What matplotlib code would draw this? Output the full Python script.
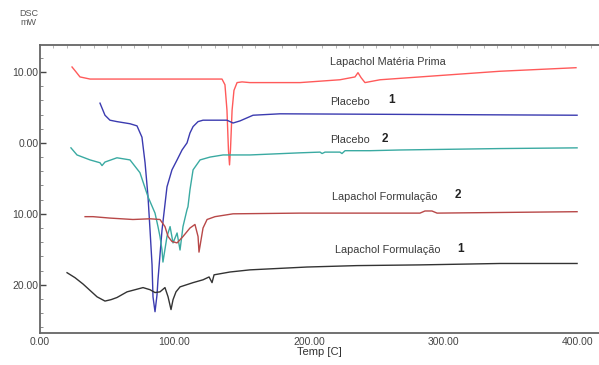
import matplotlib
matplotlib.use('Agg')
import matplotlib.pyplot as plt
from matplotlib.ticker import MultipleLocator

plt.rcParams['font.family'] = ['Liberation Sans', 'DejaVu Sans']

# Lapachol Matéria Prima (vermelho)
mp_t = [23.8, 26.8, 29.7, 37.2, 81.8, 133.8, 135.3, 137.5, 139.0, 140.1, 140.9, 141.6, 142.8, 144.2,
        146.5, 150.2, 156.1, 193.3, 223.0, 234.2, 236.4, 238.7, 241.6, 252.8, 304.8, 342.0, 398.5]
mp_y = [10.7, 10.0, 9.3, 9.0, 9.0, 9.0, 9.0, 8.2, 4.6, -1.0, -3.1, -1.0, 4.6, 7.4,
        8.5, 8.6, 8.5, 8.5, 8.9, 9.3, 9.9, 9.2, 8.5, 8.9, 9.6, 10.1, 10.6]

# Placebo 1 (azul)
p1_t = [44.6, 48.3, 52.0, 57.2, 66.9, 72.1, 75.8, 78.1, 80.3, 81.8, 83.3, 84.0, 85.5, 87.0, 87.7,
        90.7, 94.4, 98.1, 101.9, 105.6, 109.3, 111.5, 113.8, 117.5, 121.2, 139.0, 143.5, 148.7,
        158.4, 178.4, 399.3]
p1_y = [5.6, 3.9, 3.2, 3.0, 2.7, 2.4, 0.8, -2.8, -7.6, -12.3, -17.2, -21.7, -23.8, -21.4, -19.3,
        -12.3, -6.2, -3.8, -2.4, -1.0, 0.0, 1.4, 2.3, 3.0, 3.2, 3.2, 2.8, 3.1,
        3.9, 4.1, 3.9]

# Placebo 2 (verde-azulado)
p2_t = [23.0, 27.5, 37.2, 44.6, 46.1, 48.3, 57.2, 66.9, 74.3, 80.3, 85.5, 87.7, 89.2, 90.7, 91.4,
        94.4, 96.7, 98.9, 101.9, 104.1, 106.3, 109.3, 110.0, 111.5, 113.8, 119.0, 126.4, 136.1,
        156.1, 193.3, 208.2, 209.7, 211.9, 223.0, 224.5, 226.8, 245.4, 267.7, 342.0, 399.3]
p2_y = [-0.7, -1.7, -2.4, -2.8, -3.2, -2.7, -2.1, -2.4, -4.2, -7.6, -9.9, -11.8, -13.2, -15.1, -16.8,
        -13.2, -11.8, -14.1, -12.7, -15.1, -11.8, -9.4, -9.0, -6.6, -3.8, -2.4, -2.0, -1.7,
        -1.7, -1.4, -1.3, -1.5, -1.3, -1.3, -1.5, -1.1, -1.1, -1.0, -0.8, -0.7]

# Lapachol Formulação 2 (vermelho escuro)
f2_t = [33.5, 39.4, 52.0, 69.1, 81.8, 89.2, 92.9, 95.2, 98.1, 101.9, 106.3, 111.5, 115.2, 117.5,
        118.2, 119.7, 121.2, 124.2, 130.1, 143.5, 193.3, 282.5, 286.2, 291.4, 295.2, 399.3]
f2_y = [-10.4, -10.4, -10.6, -10.8, -10.7, -10.8, -11.8, -13.2, -13.9, -14.1, -13.2, -12.0, -11.5, -13.2,
        -15.4, -13.7, -12.0, -10.8, -10.4, -10.0, -9.9, -9.9, -9.6, -9.6, -9.9, -9.7]

# Lapachol Formulação 1 (preto)
f1_t = [20.1, 26.0, 32.0, 37.2, 42.4, 48.3, 52.8, 57.2, 64.7, 76.6, 81.8, 85.5, 89.2, 92.9, 95.2,
        97.4, 98.9, 101.1, 104.1, 113.8, 121.2, 125.7, 127.9, 129.4, 141.3, 156.1, 198.5, 235.7,
        282.5, 342.0, 399.3]
f1_y = [-18.3, -19.0, -19.9, -20.8, -21.7, -22.3, -22.1, -21.8, -21.0, -20.4, -20.7, -21.1, -21.0, -20.4, -21.7,
        -23.5, -22.1, -21.0, -20.3, -19.7, -19.3, -18.9, -19.7, -18.6, -18.2, -17.9, -17.5, -17.3,
        -17.2, -17.0, -17.0]

xticks = [0, 100, 200, 300, 400]
xticklabels = ['0.00', '100.00', '200.00', '300.00', '400.00']
yticks = [10, 0, -10, -20]
yticklabels = ['10.00', '0.00', '10.00', '20.00']

fig = plt.figure(figsize=(5.99, 3.65), dpi=100)
ax = fig.add_axes([0.0668, 0.0877, 0.9332, 0.7890])

ax.plot(mp_t, mp_y, color='#ff5a5a', lw=1.0)
ax.plot(p1_t, p1_y, color='#3b3bb0', lw=1.0)
ax.plot(p2_t, p2_y, color='#3aaaa2', lw=1.0)
ax.plot(f2_t, f2_y, color='#b84848', lw=1.0)
ax.plot(f1_t, f1_y, color='#333333', lw=1.0)

ax.set_xlim(0, 415.6)
ax.set_ylim(-26.8, 13.8)

# rótulos das curvas
lab = dict(fontsize=7.8, color='#3a3a3a', va='center')
num = dict(fontsize=8.5, color='#222222', va='center', fontweight='bold')
ax.text(215.6, 11.4, 'Lapachol Matéria Prima', **lab)
ax.text(215.6, 5.8, 'Placebo', **lab)
ax.text(259, 6.0, '1', **num)
ax.text(215.6, 0.4, 'Placebo', **lab)
ax.text(254, 0.6, '2', **num)
ax.text(217, -7.6, 'Lapachol Formulação', **lab)
ax.text(308, -7.4, '2', **num)
ax.text(219, -15.1, 'Lapachol Formulação', **lab)
ax.text(310, -14.9, '1', **num)

ax.set_xticks(xticks)
ax.set_xticklabels(xticklabels)
ax.set_yticks(yticks)
ax.set_yticklabels(yticklabels)
ax.yaxis.set_minor_locator(MultipleLocator(2))
ax.xaxis.set_minor_locator(MultipleLocator(10))
ax.tick_params(axis='y', which='major', direction='in', length=4, width=1, colors='#444444',
               labelsize=7.5, pad=1)
ax.tick_params(axis='y', which='minor', direction='in', length=2, width=0.6, color='#777777')
ax.tick_params(axis='x', which='major', direction='in', length=0, colors='#444444', labelsize=7.5, pad=3)
ax.tick_params(axis='x', which='minor', direction='in', length=2, width=0.6, color='#aaaaaa',
               top=True, bottom=False)

for s in ['left', 'top', 'bottom']:
    ax.spines[s].set_color('#666666')
    ax.spines[s].set_linewidth(1.3)
ax.spines['right'].set_visible(False)

ax.set_xlabel('Temp [C]', fontsize=8, color='#333333', labelpad=0)
fig.text(0.048, 0.975, 'DSC\nmW', fontsize=6.5, color='#555555', ha='center', va='top', linespacing=1.0)

fig.savefig('out.png', dpi=100)
